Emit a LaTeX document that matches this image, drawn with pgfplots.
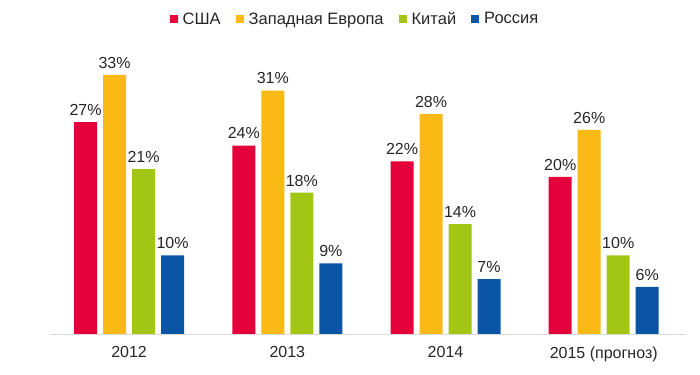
\documentclass[border=0pt]{standalone}
\usepackage{fontspec}
\setmainfont{Liberation Sans}
\usepackage{pgfplots}
\pgfplotsset{compat=1.18}
\definecolor{cR}{HTML}{E4003A}
\definecolor{cY}{HTML}{FBB915}
\definecolor{cG}{HTML}{A3C614}
\definecolor{cB}{HTML}{0B56A4}
\begin{document}
\begin{tikzpicture}
\path[use as bounding box] (0,0) rectangle (700bp,375bp);
\begin{axis}[
  at={(50bp,41bp)}, anchor=south west,
  scale only axis, width=636bp, height=294bp,
  xmin=-0.5, xmax=3.52, ymin=0, ymax=37.45,
  ybar=6bp, bar width=23bp,
  axis y line=none, axis x line*=bottom,
  x axis line style={draw=black!15, line width=0.8pt},
  xtick={0,1,2,3}, xticklabels={2012,2013,2014,2015 (прогноз)},
  major tick length=0pt,
  xticklabel style={font=\fontsize{16bp}{19bp}\selectfont, text=black!85, yshift=-9bp},
  /pgf/number format/assume math mode=true,
  nodes near coords={\pgfmathprintnumber{\pgfplotspointmeta}\%},
  nodes near coords style={font=\fontsize{16bp}{19bp}\selectfont, text=black!85, yshift=3bp},
  legend columns=4,
  legend style={at={(0.5,1)}, yshift=21bp, xshift=-13bp, anchor=center, draw=none, fill=none,
    font=\fontsize{16.5bp}{19bp}\selectfont, text=black!85,
    /tikz/every even column/.append style={column sep=13bp}},
  legend image code/.code={\fill[#1] (0bp,-4bp) rectangle (8bp,4bp); \path (0bp,0bp) -- (11bp,0bp);},
  every axis plot/.append style={draw=none},
]
\addplot[fill=cR] coordinates {(0,27) (1,24) (2,22) (3,20)};
\addplot[fill=cY] coordinates {(0,33) (1,31) (2,28) (3,26)};
\addplot[fill=cG] coordinates {(0,21) (1,18) (2,14) (3,10)};
\addplot[fill=cB] coordinates {(0,10) (1,9) (2,7) (3,6)};
\legend{США,Западная Европа,Китай,Россия}
\end{axis}
\end{tikzpicture}
\end{document}
